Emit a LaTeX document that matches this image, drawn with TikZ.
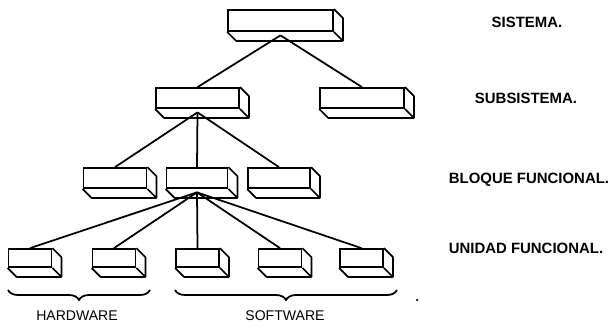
\documentclass[tikz,border=0pt]{standalone}
\usepackage{fontspec}
\newfontfamily\helv{Liberation Sans}
\usetikzlibrary{decorations.pathreplacing}

\begin{document}
\begin{tikzpicture}[
    x=0.2mm,y=-0.2mm,
    line width=1pt,
    caja/.style={
        draw=black,
        rectangle,
        fill=white,
        inner sep=0pt,
        minimum height=4mm
    },
    nivel/.style={
        inner sep=0pt,
        font=\helv\fontsize{8.5}{10}\selectfont\bfseries
    },
    grupo/.style={
        inner sep=0pt,
        font=\helv\fontsize{8}{9}\selectfont
    },
    llave/.style={
        decorate,
        decoration={brace, mirror, amplitude=2mm}
    }
]
\useasboundingbox (0,0) rectangle (613,325);

% ====== sistema ======
\node[caja, minimum width=21mm, minimum height=4.2mm] (sistema) at (280.5,20.5) {};

% ====== subsistemas ======
\node[caja, minimum width=16.6mm] (subA) at (197.5,98) {};
\node[caja, minimum width=16.8mm] (subB) at (362,98) {};

% ====== bloques funcionales ======
\node[caja, minimum width=12.6mm] (bloqA) at (115,178) {};
\node[caja, minimum width=12.2mm] (bloqB) at (197,178) {};
\node[caja, minimum width=12.4mm] (bloqC) at (279,178) {};

% ====== unidades funcionales ======
\node[caja, minimum width=8.6mm, minimum height=3.6mm] (uniA) at (30,258) {};
\node[caja, minimum width=8.6mm, minimum height=3.6mm] (uniB) at (114,258) {};
\node[caja, minimum width=8.6mm, minimum height=3.6mm] (uniC) at (197.5,258) {};
\node[caja, minimum width=8.6mm, minimum height=3.6mm] (uniD) at (280,258) {};
\node[caja, minimum width=8.6mm, minimum height=3.6mm] (uniE) at (361.5,258) {};

% fondo de cada caja
\foreach \c in {sistema,subA,subB,bloqA,bloqB,bloqC,uniA,uniB,uniC,uniD,uniE}{
    \draw[line join=round] (\c.south west) -- ++(1.8mm,-1.8mm)
        -- ([shift={(1.8mm,-1.8mm)}]\c.south east)
        -- ([shift={(1.8mm,-1.8mm)}]\c.north east) -- (\c.north east)
        (\c.south east) -- ++(1.8mm,-1.8mm);
}

% sistema -> subsistemas
\draw ([yshift=-0.7mm]sistema.south) -- (subA.north);
\draw ([yshift=-0.7mm]sistema.south) -- (subB.north);

% subsistema -> bloques
\draw ([yshift=-0.7mm]subA.south) -- (bloqA.north);
\draw ([yshift=-0.7mm]subA.south) -- (bloqB.north);
\draw ([yshift=-0.7mm]subA.south) -- (bloqC.north);

% bloque -> unidades
\draw ([yshift=-0.7mm]bloqB.south) -- (uniA.north);
\draw ([yshift=-0.7mm]bloqB.south) -- (uniB.north);
\draw ([yshift=-0.7mm]bloqB.south) -- (uniC.north);
\draw ([yshift=-0.7mm]bloqB.south) -- (uniD.north);
\draw ([yshift=-0.7mm]bloqB.south) -- (uniE.north);

% ====== llaves ======
\coordinate (hwL) at (8,290);
\coordinate (hwR) at (150,290);
\coordinate (swL) at (175,290);
\coordinate (swR) at (397,290);
\draw[llave] (hwL) -- (hwR);
\draw[llave] (swL) -- (swR);

\node[grupo] (hw) at (77,316) {HARDWARE};
\node[grupo] (sw) at (285,316) {SOFTWARE};

\fill (417,300) circle (0.25mm);

% ====== niveles ======
\node[nivel] (lsis)  at (527,22)  {SISTEMA.};
\node[nivel] (lsub)  at (526,98)  {SUBSISTEMA.};
\node[nivel] (lbloq) at (529,180) {BLOQUE FUNCIONAL.};
\node[nivel] (luni)  at (526,248) {UNIDAD FUNCIONAL.};

\end{tikzpicture}
\end{document}
